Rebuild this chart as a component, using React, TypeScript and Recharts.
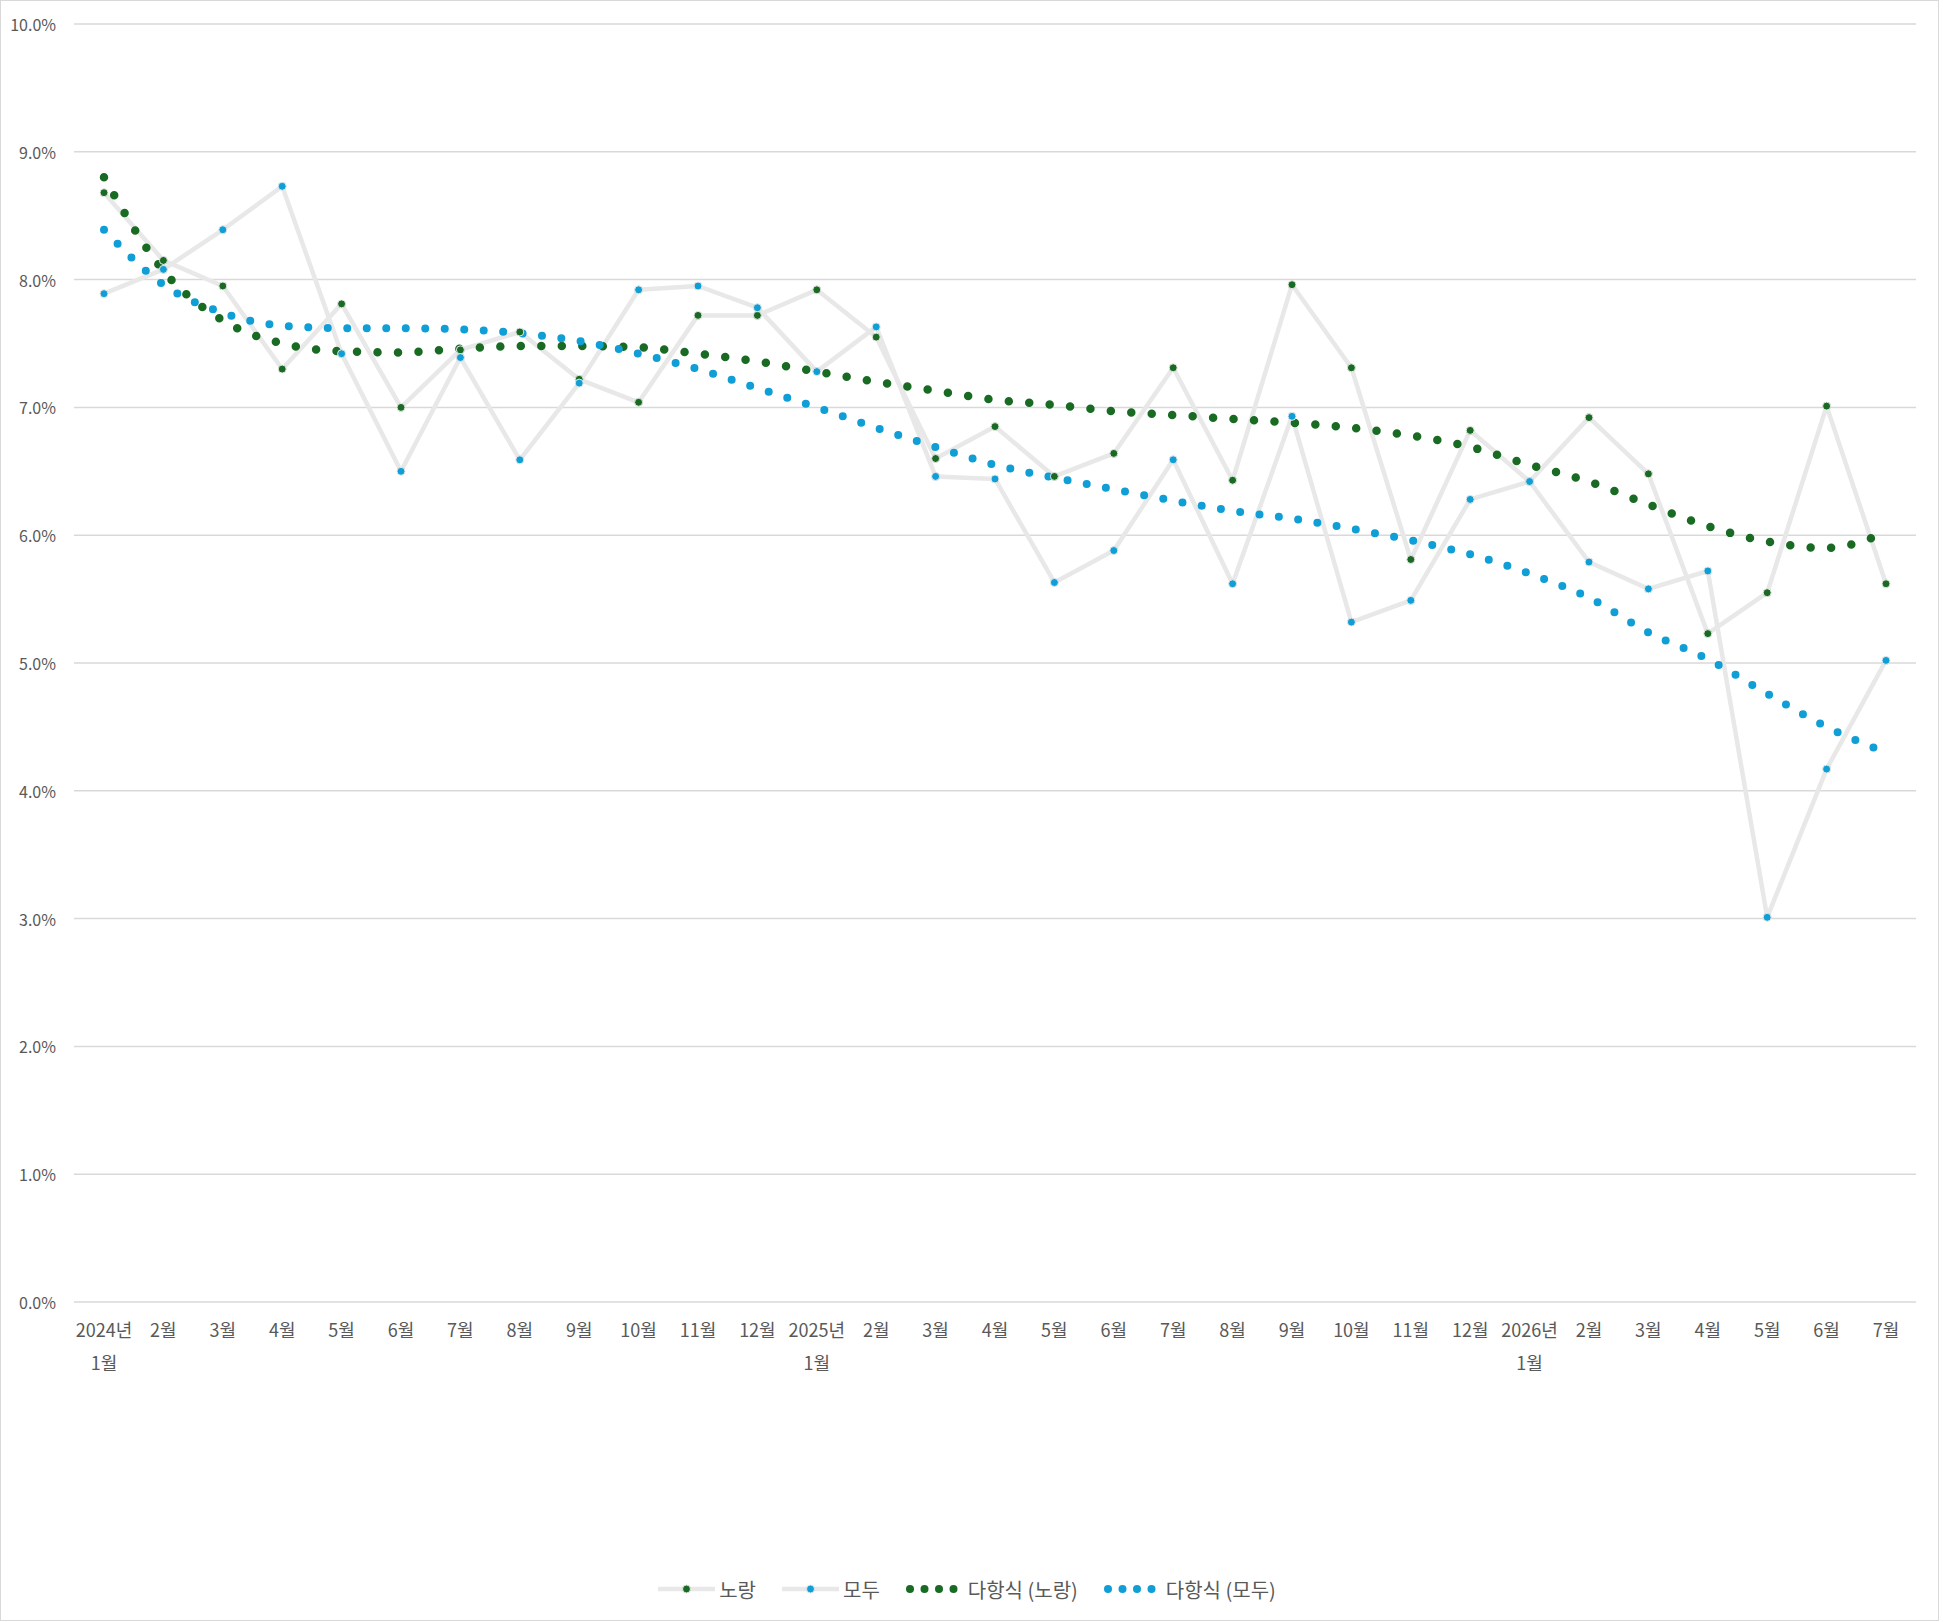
import { LineChart, Line, XAxis, YAxis, CartesianGrid, Legend } from "recharts";

const categories = [
  "2024년 1월", "2월", "3월", "4월", "5월", "6월", "7월", "8월", "9월", "10월", "11월", "12월",
  "2025년 1월", "2월", "3월", "4월", "5월", "6월", "7월", "8월", "9월", "10월", "11월", "12월",
  "2026년 1월", "2월", "3월", "4월", "5월", "6월", "7월",
];

// 노랑
const noRang = [
  8.68, 8.15, 7.95, 7.3, 7.81, 7.0, 7.45, 7.59, 7.22, 7.04, 7.72, 7.72,
  7.92, 7.55, 6.6, 6.85, 6.46, 6.64, 7.31, 6.43, 7.96, 7.31, 5.81, 6.82,
  6.42, 6.92, 6.48, 5.23, 5.55, 7.01, 5.62,
];

// 모두
const moDu = [
  7.89, 8.08, 8.39, 8.73, 7.42, 6.5, 7.39, 6.59, 7.19, 7.92, 7.95, 7.78,
  7.28, 7.63, 6.46, 6.44, 5.63, 5.88, 6.59, 5.62, 6.93, 5.32, 5.49, 6.28,
  6.42, 5.79, 5.58, 5.72, 3.01, 4.17, 5.02,
];

// 다항식 (노랑)
const trendNoRang = [
  8.8, 8.07, 7.68, 7.5, 7.44, 7.43, 7.46, 7.48, 7.48, 7.47, 7.42, 7.36,
  7.28, 7.2, 7.13, 7.06, 7.02, 6.97, 6.94, 6.91, 6.88, 6.84, 6.78, 6.69,
  6.55, 6.42, 6.24, 6.07, 5.95, 5.9, 6.02,
];

// 다항식 (모두)
const trendMoDu = [
  8.39, 7.96, 7.74, 7.64, 7.62, 7.62, 7.61, 7.58, 7.52, 7.42, 7.3, 7.15,
  7.0, 6.84, 6.69, 6.55, 6.45, 6.36, 6.27, 6.19, 6.13, 6.05, 5.96, 5.85,
  5.7, 5.51, 5.24, 5.03, 4.76, 4.5, 4.3,
];

const yTicks = [0, 1, 2, 3, 4, 5, 6, 7, 8, 9, 10];

const GREEN = "#196B24";
const BLUE = "#0F9ED5";
const GRAY_LINE = "#E8E8E8";
const GRID = "#D9D9D9";
const TEXT = "#595959";
const FONT = "'Noto Sans CJK KR', 'Noto Sans', sans-serif";

const data = categories.map((name, i) => ({
  name,
  noRang: noRang[i],
  moDu: moDu[i],
  trendNoRang: trendNoRang[i],
  trendMoDu: trendMoDu[i],
}));

const XTick = (props: any) => {
  const { x, y, payload } = props;
  const parts = String(payload.value).split(" ");
  return (
    <g>
      {parts.map((p: string, i: number) => (
        <text
          key={i}
          x={x}
          y={y + 27 + i * 33}
          textAnchor="middle"
          dominantBaseline="central"
          fontSize={18}
          fontFamily={FONT}
          fill={TEXT}
        >
          {p}
        </text>
      ))}
    </g>
  );
};

const YTick = (props: any) => {
  const { x, y, payload } = props;
  return (
    <text
      x={x}
      y={y}
      textAnchor="end"
      dominantBaseline="central"
      fontSize={16}
      fontFamily={FONT}
      fill={TEXT}
    >
      {`${Number(payload.value).toFixed(1)}%`}
    </text>
  );
};

const legendItems = [
  { label: "노랑", color: GREEN, kind: "line" },
  { label: "모두", color: BLUE, kind: "line" },
  { label: "다항식 (노랑)", color: GREEN, kind: "dots" },
  { label: "다항식 (모두)", color: BLUE, kind: "dots" },
];

const LegendContent = () => (
  <div
    style={{
      display: "flex",
      justifyContent: "center",
      alignItems: "center",
      gap: 26,
      height: 30,
      fontFamily: FONT,
      fontSize: 20,
      color: TEXT,
      paddingLeft: 18,
    }}
  >
    {legendItems.map((it) => (
      <div key={it.label} style={{ display: "flex", alignItems: "center" }}>
        {it.kind === "line" ? (
          <svg width={57} height={20}>
            <line x1={1} y1={10} x2={56} y2={10} stroke={GRAY_LINE} strokeWidth={4.5} strokeLinecap="round" />
            <circle cx={28.5} cy={10} r={4} fill={it.color} stroke={GRAY_LINE} strokeWidth={1} />
          </svg>
        ) : (
          <svg width={52} height={20}>
            {[4, 18.5, 33, 47.5].map((cx) => (
              <circle key={cx} cx={cx} cy={10} r={4} fill={it.color} />
            ))}
          </svg>
        )}
        <span style={{ marginLeft: it.kind === "line" ? 4 : 10 }}>{it.label}</span>
      </div>
    ))}
  </div>
);

export default function App() {
  return (
    <div style={{ position: "absolute", left: 0, top: 0, width: 1943, height: 1622, background: "#fff" }}>
      <div
        style={{
          position: "absolute",
          left: 0,
          top: 0,
          width: 1939,
          height: 1621,
          border: "1.5px solid #D9D9D9",
          boxSizing: "border-box",
        }}
      />
      <LineChart
        width={1943}
        height={1622}
        data={data}
        margin={{ top: 24, right: 27, left: 0, bottom: 18 }}
      >
        <CartesianGrid vertical={false} stroke={GRID} strokeWidth={1.5} />
        <XAxis
          dataKey="name"
          interval={0}
          axisLine={false}
          tickLine={false}
          tickSize={0}
          tickMargin={0}
          height={272}
          padding={{ left: 30, right: 30 }}
          tick={<XTick />}
        />
        <YAxis
          domain={[0, 10]}
          ticks={yTicks}
          width={74}
          axisLine={false}
          tickLine={false}
          tickSize={0}
          tickMargin={18}
          tick={<YTick />}
        />
        <Legend verticalAlign="bottom" content={<LegendContent />} />
        <Line
          dataKey="noRang"
          name="노랑"
          stroke={GRAY_LINE}
          strokeWidth={4.5}
          strokeLinejoin="round"
          dot={{ r: 4, fill: GREEN, stroke: GRAY_LINE, strokeWidth: 1 }}
          activeDot={false}
          isAnimationActive={false}
        />
        <Line
          dataKey="moDu"
          name="모두"
          stroke={GRAY_LINE}
          strokeWidth={4.5}
          strokeLinejoin="round"
          dot={{ r: 4, fill: BLUE, stroke: GRAY_LINE, strokeWidth: 1 }}
          activeDot={false}
          isAnimationActive={false}
        />
        <Line
          dataKey="trendNoRang"
          name="다항식 (노랑)"
          type="monotone"
          stroke={GREEN}
          strokeWidth={8.5}
          strokeLinecap="round"
          strokeDasharray="0 20.5"
          dot={false}
          activeDot={false}
          isAnimationActive={false}
        />
        <Line
          dataKey="trendMoDu"
          name="다항식 (모두)"
          type="monotone"
          stroke={BLUE}
          strokeWidth={8}
          strokeLinecap="round"
          strokeDasharray="0 19.5"
          dot={false}
          activeDot={false}
          isAnimationActive={false}
        />
      </LineChart>
    </div>
  );
}
